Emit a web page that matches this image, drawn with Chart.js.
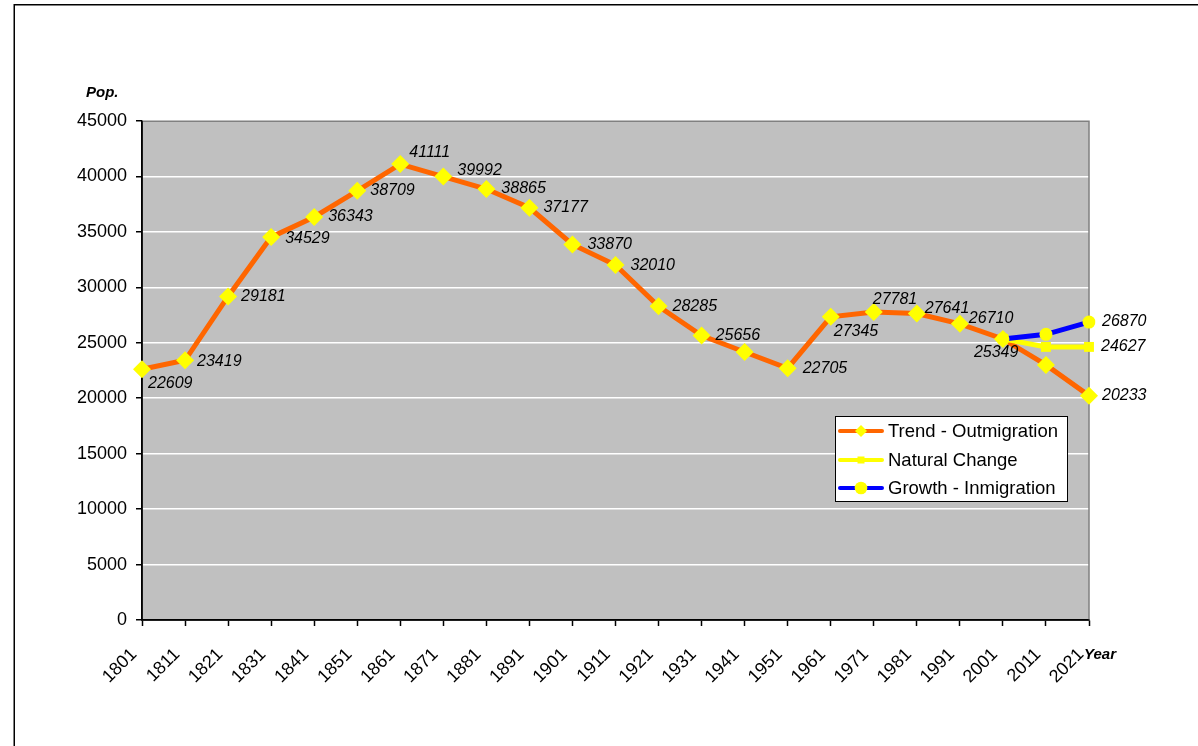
<!DOCTYPE html>
<html>
<head>
<meta charset="utf-8">
<title>Population 1801–2021</title>
<script src="https://cdn.jsdelivr.net/npm/chart.js@4/dist/chart.umd.min.js"></script>
<style>
  html, body { margin: 0; padding: 0; background: #ffffff; }
  #wrap { position: relative; width: 1198px; height: 746px; }
  canvas { display: block; }
</style>
</head>
<body>
<div id="wrap"><canvas id="chart" width="1198" height="746"></canvas></div>
<script>
// Census years on the category axis
const years = ['1801','1811','1821','1831','1841','1851','1861','1871','1881','1891',
               '1901','1911','1921','1931','1941','1951','1961','1971','1981','1991',
               '2001','2011','2021'];

// Population: historic counts plus the out-migration trend projection
const trendOutmigration = [22609, 23419, 29181, 34529, 36343, 38709, 41111, 39992, 38865, 37177,
                           33870, 32010, 28285, 25656, 24170, 22705, 27345, 27781, 27641, 26710,
                           25349, 23000, 20233];

// Projection with natural change only (starts at 2001)
const naturalChange = [null, null, null, null, null, null, null, null, null, null,
                       null, null, null, null, null, null, null, null, null, null,
                       25349, 24627, 24627];

// Projection with growth through in-migration (starts at 2001)
const growthInmigration = [null, null, null, null, null, null, null, null, null, null,
                           null, null, null, null, null, null, null, null, null, null,
                           25349, 25760, 26870];

// Y axis ticks
const yTicks = [0, 5000, 10000, 15000, 20000, 25000, 30000, 35000, 40000, 45000];

// Value-label placement (dx, dy from the point; null = no label)
const trendLabelShift = [[6,14],[12,1],[13,0],[14,1],[14,0],[13,0],[9,-12],[14,-6],[15,0],[14,0],
                         [15,0],[15,1],[14,0],[14,0],null,[15,0],[3,15],[-1,-12],[8,-5],[9,-5],
                         [-29,14],null,[13,0]];
const naturalLabelShift = Array(22).fill(null).concat([[12,0]]);
const growthLabelShift = Array(22).fill(null).concat([[13,0]]);

const FONT = '"Liberation Sans", Arial, Helvetica, sans-serif';

function drawMarker(ctx, style, x, y, r, color) {
  ctx.save();
  ctx.fillStyle = color;
  ctx.beginPath();
  if (style === 'rectRot') {
    ctx.moveTo(x, y - r); ctx.lineTo(x + r, y); ctx.lineTo(x, y + r); ctx.lineTo(x - r, y);
    ctx.closePath();
  } else if (style === 'rect') {
    ctx.rect(x - r, y - r, 2 * r, 2 * r);
  } else {
    ctx.arc(x, y, r, 0, Math.PI * 2);
  }
  ctx.fill();
  ctx.restore();
}

const framePlugin = {
  id: 'frame',
  beforeDraw(chart) {
    const ctx = chart.ctx;
    const a = chart.chartArea;
    ctx.save();
    ctx.fillStyle = '#ffffff';
    ctx.fillRect(0, 0, chart.width, chart.height);
    // outer frame of the sheet
    ctx.strokeStyle = '#000000';
    ctx.lineWidth = 1.5;
    ctx.beginPath();
    ctx.moveTo(14.25, chart.height + 2);
    ctx.lineTo(14.25, 4.75);
    ctx.lineTo(chart.width + 2, 4.75);
    ctx.stroke();
    // plot area fill
    ctx.fillStyle = '#C0C0C0';
    ctx.fillRect(a.left, a.top, a.right - a.left, a.bottom - a.top);
    ctx.restore();
  },
  beforeDatasetsDraw(chart) {
    const ctx = chart.ctx;
    const a = chart.chartArea;
    ctx.save();
    ctx.lineWidth = 1.5;
    ctx.strokeStyle = '#808080';
    ctx.beginPath();
    ctx.moveTo(a.left, a.top + 0.25);
    ctx.lineTo(a.right, a.top + 0.25);
    ctx.lineTo(a.right, a.bottom);
    ctx.stroke();
    ctx.strokeStyle = '#000000';
    ctx.lineWidth = 1.5;
    ctx.beginPath();
    ctx.moveTo(a.left, a.top);
    ctx.lineTo(a.left, a.bottom);
    ctx.lineTo(a.right, a.bottom);
    ctx.stroke();
    ctx.restore();
  },
  afterDatasetsDraw(chart) {
    const ctx = chart.ctx;
    ctx.save();
    // value labels
    ctx.font = 'italic 16px ' + FONT;
    ctx.fillStyle = '#000000';
    ctx.textAlign = 'left';
    ctx.textBaseline = 'middle';
    const shifts = [trendLabelShift, naturalLabelShift, growthLabelShift];
    chart.data.datasets.forEach((ds, di) => {
      const meta = chart.getDatasetMeta(di);
      meta.data.forEach((pt, i) => {
        const s = shifts[di][i];
        const v = ds.data[i];
        if (!s || v === null || v === undefined) return;
        ctx.fillText(String(v), pt.x + s[0], pt.y + s[1]);
      });
    });

    // axis titles
    ctx.font = 'bold italic 15px ' + FONT;
    ctx.fillText('Pop.', 86, 93);
    ctx.fillText('Year', 1084, 655);

    // legend
    const lx = 835.5, ly = 416.5, lw = 232, lh = 85;
    ctx.fillStyle = '#ffffff';
    ctx.fillRect(lx, ly, lw, lh);
    ctx.strokeStyle = '#000000';
    ctx.lineWidth = 1;
    ctx.strokeRect(lx, ly, lw, lh);
    const rowsY = [431, 460, 488];
    const markerR = [6, 3.5, 6.3];
    ctx.font = '18.5px ' + FONT;
    chart.data.datasets.forEach((ds, di) => {
      const y = rowsY[di];
      ctx.strokeStyle = ds.borderColor;
      ctx.lineWidth = 4;
      ctx.lineCap = 'round';
      ctx.beginPath();
      ctx.moveTo(840, y);
      ctx.lineTo(882, y);
      ctx.stroke();
      drawMarker(ctx, ds.pointStyle, 861, y, markerR[di], ds.pointBackgroundColor);
      ctx.fillStyle = '#000000';
      ctx.textBaseline = 'middle';
      ctx.fillText(ds.label, 888, y + 1);
    });
    ctx.restore();
  }
};

new Chart(document.getElementById('chart'), {
  type: 'line',
  data: {
    labels: years,
    datasets: [
      {
        label: 'Trend - Outmigration',
        data: trendOutmigration,
        borderColor: '#FF6600',
        borderWidth: 5,
        pointStyle: 'rectRot',
        pointRadius: 9,
        pointBorderWidth: 0,
        pointBackgroundColor: '#FFFF00',
        pointBorderColor: '#FFFF00',
        tension: 0,
        order: 3
      },
      {
        label: 'Natural Change',
        data: naturalChange,
        borderColor: '#FFFF00',
        borderWidth: 5,
        pointStyle: 'rect',
        pointRadius: 7,
        pointBorderWidth: 0,
        pointBackgroundColor: '#FFFF00',
        pointBorderColor: '#FFFF00',
        tension: 0,
        order: 2
      },
      {
        label: 'Growth - Inmigration',
        data: growthInmigration,
        borderColor: '#0000FF',
        borderWidth: 5,
        pointStyle: 'circle',
        pointRadius: 6.5,
        pointBorderWidth: 0,
        pointBackgroundColor: '#FFFF00',
        pointBorderColor: '#FFFF00',
        tension: 0,
        order: 1
      }
    ]
  },
  options: {
    responsive: false,
    animation: false,
    events: [],
    layout: { padding: { top: 121, right: 109, left: 0, bottom: 0 } },
    plugins: {
      legend: { display: false },
      tooltip: { enabled: false },
      title: { display: false }
    },
    scales: {
      x: {
        type: 'category',
        offset: false,
        afterFit(scale) { scale.height = 126; },
        grid: {
          drawOnChartArea: false,
          drawTicks: true,
          tickLength: 6,
          tickColor: '#000000',
          tickWidth: 1.5
        },
        border: { display: true, color: '#000000', width: 1.5 },
        ticks: {
          minRotation: 45,
          maxRotation: 45,
          autoSkip: false,
          padding: 18,
          labelOffset: -8,
          color: '#000000',
          font: { family: FONT, size: 18 }
        }
      },
      y: {
        min: 0,
        max: 45000,
        afterFit(scale) { scale.width = 142; },
        afterBuildTicks(scale) { scale.ticks = yTicks.map(v => ({ value: v })); },
        grid: {
          color: '#FFFFFF',
          lineWidth: 1.5,
          drawTicks: true,
          tickLength: 6,
          tickColor: '#000000',
          tickWidth: 1.5
        },
        border: { display: true, color: '#000000', width: 1.5 },
        ticks: {
          padding: 9,
          color: '#000000',
          font: { family: FONT, size: 18 },
          callback: v => String(v)
        }
      }
    }
  },
  plugins: [framePlugin]
});
</script>
</body>
</html>
